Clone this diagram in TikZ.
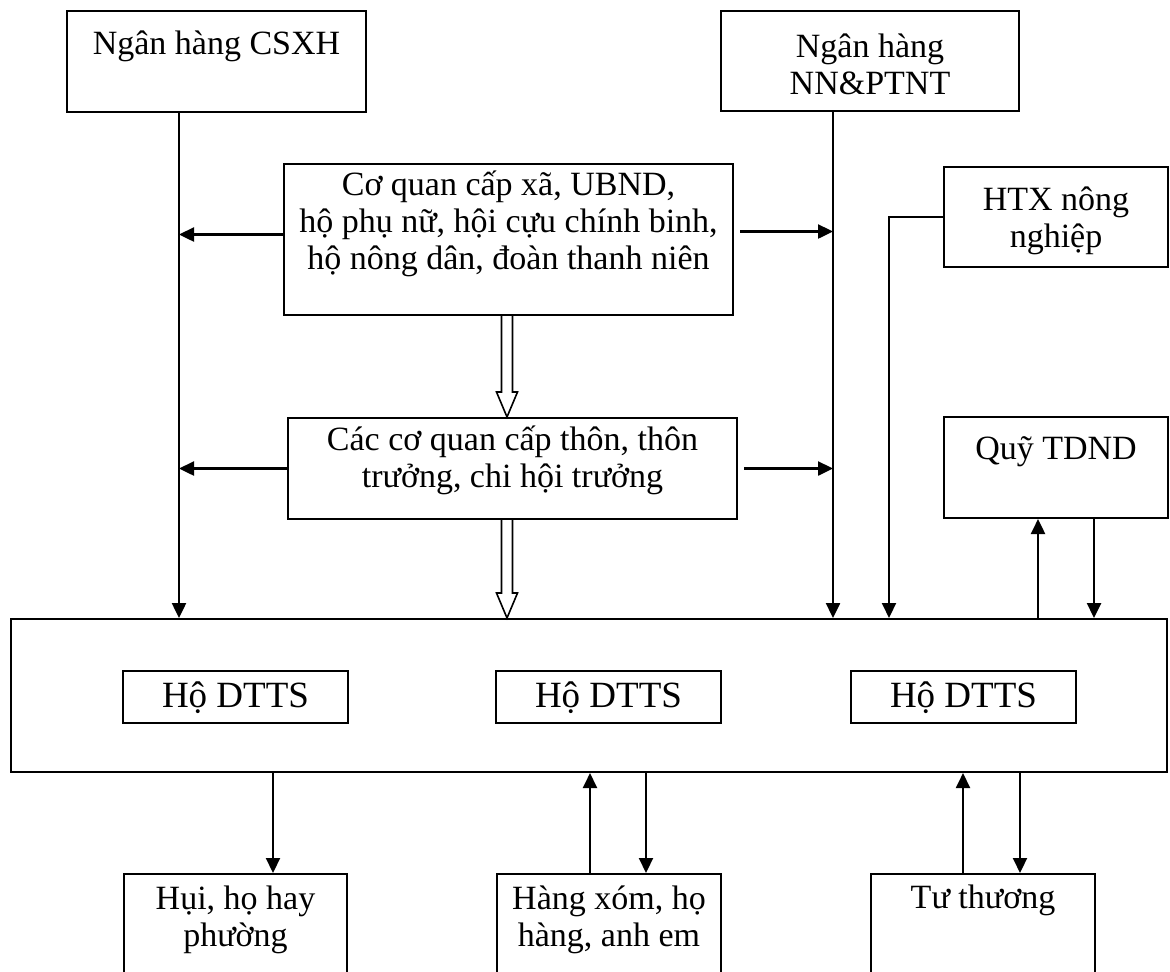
\documentclass[tikz,border=0pt]{standalone}
\usepackage{fontspec}
\setmainfont{Liberation Serif}
\usetikzlibrary{arrows.meta,calc}
\tikzset{
  box/.style={draw, line width=1pt, anchor=north, align=center, inner xsep=0pt, inner ysep=0pt},
  hobox/.style={box, minimum width=112.5pt, text height=18pt, text depth=8pt, font=\fontsize{18.5pt}{20pt}\selectfont},
  link/.style={-{Triangle[length=7.5pt, width=7pt]}, line width=1.2pt},
  hollow/.style={line width=0.8pt, line join=miter}
}

\begin{document}
\begin{tikzpicture}[x=0.5pt, y=-0.5pt, font=\fontsize{17pt}{18.5pt}\selectfont]
  \clip (0,0) rectangle (1170,971);
  \useasboundingbox (0,0) rectangle (1170,971);

  % banks and local bodies
  \node[box, minimum width=149.5pt, text height=21.5pt, text depth=29pt] (csxh) at (216.5,10) {Ngân hàng CSXH};
  \node[box, minimum width=149pt, text height=41.5pt, text depth=8.5pt] (nn) at (870,10) {Ngân hàng\\NN\&PTNT};
  \node[box, minimum width=224.5pt, text height=52.5pt, text depth=23pt] (xa) at (508.5,163)
    {Cơ quan cấp xã, UBND,\\hộ phụ nữ, hội cựu chính binh,\\hộ nông dân, đoàn thanh niên};
  \node[box, minimum width=112pt, text height=40pt, text depth=10pt] (htx) at (1056,166) {HTX nông\\nghiệp};
  \node[box, minimum width=224.5pt, text height=34.5pt, text depth=16pt] (thon) at (512.5,417)
    {Các cơ quan cấp thôn, thôn\\trưởng, chi hội trưởng};
  \node[box, minimum width=112pt, text height=21pt, text depth=29.5pt] (quy) at (1056,416) {Quỹ TDND};

  % households
  \node[box, minimum width=578pt, minimum height=76.5pt, anchor=center] (hh) at (589,695.5) {};
  \node[hobox] (ho1) at (235.5,670) {Hộ DTTS};
  \node[hobox] (ho2) at (608.5,670) {Hộ DTTS};
  \node[hobox] (ho3) at (963.5,670) {Hộ DTTS};

  % informal sources
  \node[box, minimum width=111.5pt, text height=36pt, text depth=32.5pt] (hui) at (235.5,873) {Hụi, họ hay\\phường};
  \node[box, minimum width=112pt, text height=36pt, text depth=32.5pt] (hx) at (609,873) {Hàng xóm, họ\\hàng, anh em};
  \node[box, minimum width=112pt, text height=17pt, text depth=51.5pt] (tt) at (983,873) {Tư thương};

  \coordinate (lineL) at (179,0);
  \coordinate (lineC) at (507,0);
  \coordinate (lineN) at (833,0);
  \coordinate (lineH) at (889,0);
  \coordinate (upQ) at (1038,0);
  \coordinate (dnQ) at (1094,0);
  \coordinate (dnA) at (273,0);
  \coordinate (upB) at (590,0);
  \coordinate (dnB) at (646,0);
  \coordinate (upC) at (963,0);
  \coordinate (dnC) at (1020,0);

  \draw[link] (csxh.south -| lineL) -- (hh.north -| lineL);
  \draw[link] (nn.south -| lineN) -- (hh.north -| lineN);
  \draw[link] ([yshift=2.5pt]xa.west) -- ([yshift=2.5pt]xa.west -| lineL);
  \draw[link, shorten <=3pt] ([yshift=4pt]xa.east) -- ([yshift=4pt]xa.east -| lineN);
  \draw[link] (thon.west) -- (thon.west -| lineL);
  \draw[link, shorten <=3pt] (thon.east) -- (thon.east -| lineN);
  \draw[link, line width=1pt] (htx.west) -| (hh.north -| lineH);
  \draw[link] (hh.north -| upQ) -- (quy.south -| upQ);
  \draw[link] (quy.south -| dnQ) -- (hh.north -| dnQ);

  \draw[link, line width=1pt] (hh.south -| dnA) -- (hui.north -| dnA);
  \draw[link, line width=1pt] (hx.north -| upB) -- (hh.south -| upB);
  \draw[link, line width=1pt] (hh.south -| dnB) -- (hx.north -| dnB);
  \draw[link, line width=1pt] (tt.north -| upC) -- (hh.south -| upC);
  \draw[link, line width=1pt] (hh.south -| dnC) -- (tt.north -| dnC);

  % hollow arrows down the chain
  \foreach \a/\b in {xa/thon, thon/hh}
    \draw[hollow] let \p1=(\a.south -| lineC), \p2=(\b.north -| lineC) in
      (\x1-2.75pt,\y1) -- (\x1-2.75pt,\y2+12.5pt) -- (\x1-5.25pt,\y2+12.5pt) -- (\x2,\y2)
      -- (\x1+5.25pt,\y2+12.5pt) -- (\x1+2.75pt,\y2+12.5pt) -- (\x1+2.75pt,\y1);
\end{tikzpicture}
\end{document}
